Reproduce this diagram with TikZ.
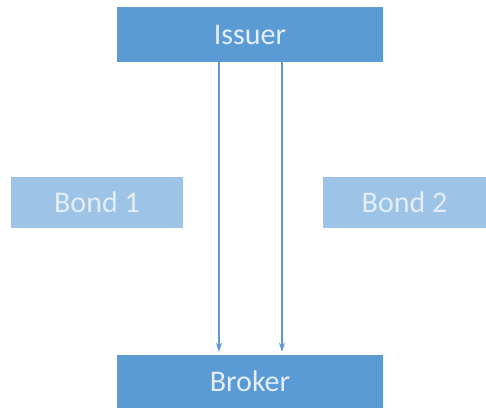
\documentclass[tikz,border=0pt]{standalone}
\usepackage{fontspec}
\setmainfont{Carlito}
\usetikzlibrary{arrows.meta, positioning, calc}

\definecolor{darkbox}{HTML}{5B9BD5}
\definecolor{lightbox}{HTML}{9DC3E6}
\definecolor{boxtext}{HTML}{E3EEF9}

\tikzset{
  party/.style={fill=darkbox, draw=none, text=boxtext, inner sep=0pt,
                minimum width=266pt, minimum height=55pt,
                font=\fontsize{30}{36}\selectfont},
  bond/.style={fill=lightbox, draw=none, text=boxtext, inner sep=0pt,
               minimum width=172pt, minimum height=51pt,
               font=\fontsize{30}{36}\selectfont},
  flow/.style={draw=darkbox, line width=1.5pt,
               -{Stealth[length=9pt, width=6pt]}, shorten >=3pt},
}

\begin{document}
\begin{tikzpicture}[x=1pt, y=-1pt]

\useasboundingbox (0,0) rectangle (486,410);

% ---------------------------------------------------------------- boxes
\node[party] (issuer) at (250, 34.5) {Issuer};
\node[party, minimum height=53pt] (broker) at (250, 381.5) {Broker};
\node[bond] (bond1) at (97, 202.5) {Bond 1};
\node[bond, minimum width=163pt] (bond2) at (404.5, 202.5) {Bond 2};

% ---------------------------------------------------------------- flows
\foreach \dx in {-31, 32} {
    \draw[flow] ($(issuer.south)+(\dx,0)$) -- ($(broker.north)+(\dx,0)$);
}

\end{tikzpicture}
\end{document}
